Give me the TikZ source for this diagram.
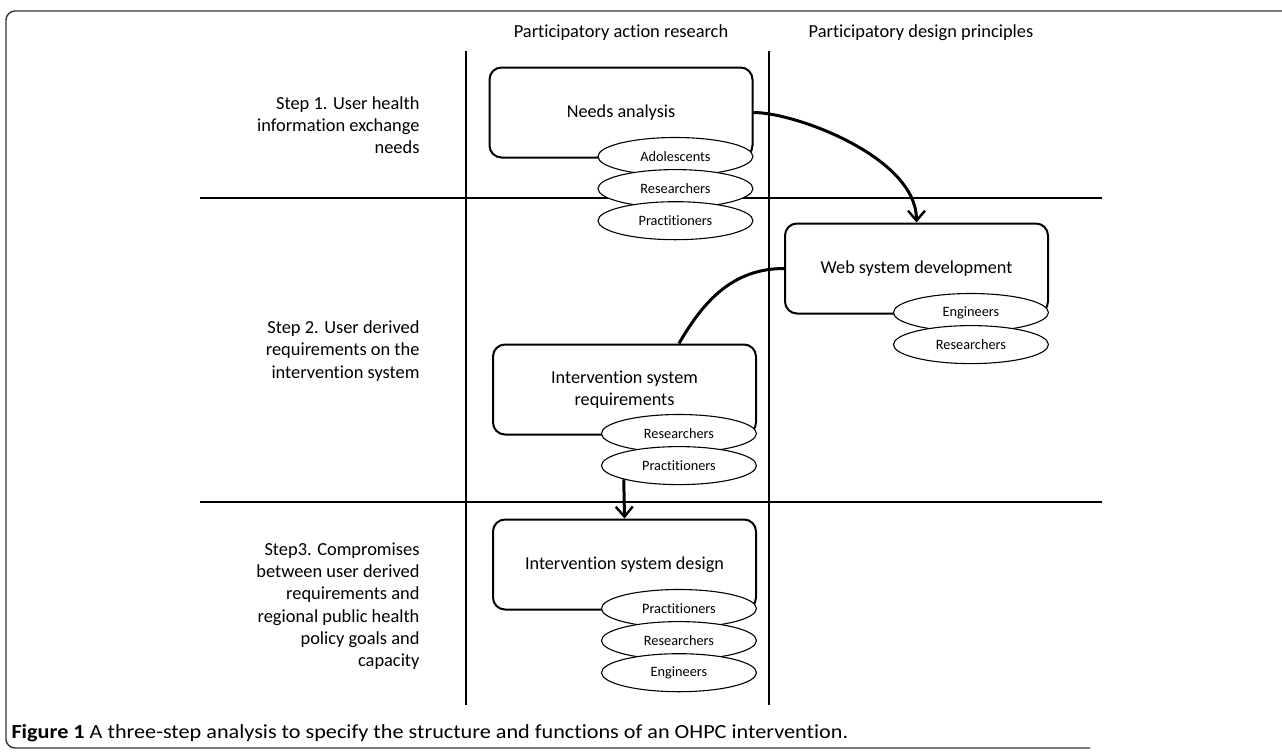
\documentclass[tikz,border=0pt]{standalone}
\usepackage{fontspec}
\setmainfont{Carlito}[Ligatures=NoCommon]
\newfontfamily\capfont{Carlito}[Ligatures=NoCommon,FakeStretch=1.11]
\usetikzlibrary{arrows.meta,positioning,shapes.geometric}

\begin{document}
\begin{tikzpicture}[x=1pt,y=-1pt,
  node distance=-7pt,
  box/.style={draw,line width=2pt,rounded corners=12pt,fill=white,align=center,
    minimum width=263pt,minimum height=90pt,font=\fontsize{18.2}{22}\selectfont},
  who/.style={draw,ellipse,line width=1.1pt,fill=white,minimum width=155pt,
    minimum height=38pt,inner sep=0pt,font=\fontsize{14.3}{16}\selectfont},
  steplabel/.style={align=right,anchor=east,font=\fontsize{18.4}{22.3}\selectfont},
  colhead/.style={font=\fontsize{18.4}{20}\selectfont},
  divider/.style={line width=2.4pt},
  frame/.style={line width=1.4pt,draw=black!80,rounded corners=9pt},
  arr/.style={-{Straight Barb[length=10pt,width=17pt,line width=2.4pt]},line width=3pt},
  link/.style={line width=3pt}
]
\useasboundingbox (0,0) rectangle (1282,753);
\draw[frame] (1282,11)--(6,11)--(6,748)--(1090,748);
% swimlanes
\draw[divider] (466,51)--(466,705);
\draw[divider] (769,51)--(769,705);
\draw[divider] (200,198)--(1102,198);
\draw[divider] (200,502)--(1102,502);
\node[colhead] (hpar) at (621,33) {Participatory action research};
\node[colhead] (hpd) at (921,33) {Participatory design principles};
\node[steplabel] (step1) at (423,125) {Step 1. User health\\information exchange\\needs};
\node[steplabel] (step2) at (423,351) {Step 2. User derived\\requirements on the\\intervention system};
\node[steplabel] (step3) at (423,606) {Step3. Compromises\\between user derived\\requirements and\\regional public health\\policy goals and\\capacity};
% activities
\node[box] (needs) at (621,112.5) {Needs analysis};
\node[box] (web) at (916.5,268.5) {Web system development};
\node[box] (req) at (624.5,389.5) {Intervention system\\requirements};
\node[box] (design) at (624.5,564.5) {Intervention system design};
% participants
\node[who,anchor=east] (na1) at ([yshift=2pt]needs.south east) {Adolescents};
\node[who,below=of na1] (na2) {Researchers};
\node[who,below=of na2] (na3) {Practitioners};
\node[who,anchor=east] (wb1) at ([yshift=2pt]web.south east) {Engineers};
\node[who,below=of wb1] (wb2) {Researchers};
\node[who,anchor=east] (rq1) at ([yshift=2pt]req.south east) {Researchers};
\node[who,below=of rq1] (rq2) {Practitioners};
\node[who,anchor=east] (ds1) at ([yshift=2pt]design.south east) {Practitioners};
\node[who,below=of ds1] (ds2) {Researchers};
\node[who,below=of ds2] (ds3) {Engineers};
% flow
\draw[arr] (needs.east) to[out=0,in=90,out looseness=0.55,in looseness=0.85] (web.north);
\draw[link] (req.north -| rq1.center) to[out=60,in=180] (web.west);
\draw[arr] (rq2.south west)--(design.north);
% caption
\node[anchor=west,font=\capfont\fontsize{20}{22}\selectfont] (cap) at (8,733)
  {\textbf{Figure 1} A three-step analysis to specify the structure and functions of an OHPC intervention.};
\end{tikzpicture}
\end{document}
